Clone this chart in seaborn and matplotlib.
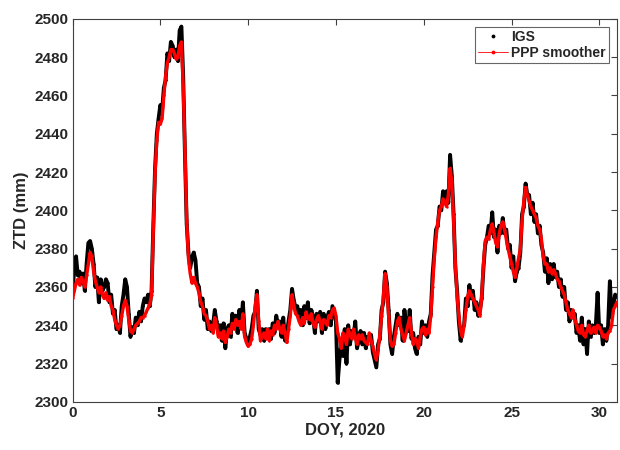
import numpy as np
import pandas as pd
import seaborn as sns
import matplotlib
matplotlib.use("Agg")
import matplotlib.pyplot as plt
from matplotlib.lines import Line2D

# Epochs: day of year 2020, sampled every 0.1 day
doy = np.round(np.arange(0, 31.01, 0.1), 1)

# IGS final troposphere product (ZTD, mm)
igs_ztd = [
    2356, 2370, 2376, 2366, 2368, 2362, 2367, 2358, 2372, 2383,
    2384, 2380, 2372, 2360, 2365, 2352, 2364, 2358, 2360, 2364,
    2362, 2352, 2356, 2346, 2348, 2338, 2340, 2336, 2350, 2356,
    2364, 2360, 2346, 2334, 2339, 2336, 2344, 2340, 2347, 2342,
    2350, 2354, 2352, 2356, 2350, 2358, 2392, 2422, 2440, 2448,
    2455, 2452, 2464, 2468, 2482, 2478, 2488, 2486, 2480, 2484,
    2478, 2494, 2496, 2470, 2430, 2393, 2378, 2370, 2375, 2378,
    2374, 2362, 2360, 2350, 2354, 2343, 2348, 2338, 2342, 2337,
    2340, 2348, 2342, 2336, 2340, 2332, 2341, 2328, 2338, 2340,
    2334, 2346, 2340, 2345, 2336, 2348, 2340, 2352, 2336, 2333,
    2330, 2334, 2338, 2345, 2347, 2358, 2338, 2335, 2338, 2332,
    2338, 2334, 2338, 2333, 2341, 2336, 2345, 2340, 2342, 2334,
    2344, 2332, 2335, 2342, 2348, 2359, 2353, 2349, 2350, 2344,
    2348, 2340, 2350, 2344, 2352, 2341, 2348, 2344, 2336, 2346,
    2342, 2347, 2336, 2346, 2338, 2344, 2347, 2340, 2350, 2346,
    2342, 2310, 2322, 2330, 2324, 2338, 2320, 2340, 2330, 2337,
    2334, 2342, 2328, 2332, 2337, 2330, 2336, 2328, 2334, 2333,
    2335, 2326, 2322, 2318, 2330, 2333, 2348, 2352, 2368, 2362,
    2348, 2330, 2325, 2334, 2340, 2346, 2340, 2344, 2332, 2348,
    2340, 2337, 2348, 2333, 2336, 2328, 2325, 2334, 2330, 2342,
    2336, 2340, 2334, 2342, 2346, 2366, 2378, 2390, 2392, 2402,
    2400, 2410, 2406, 2410, 2404, 2429, 2418, 2398, 2370, 2358,
    2342, 2332, 2338, 2340, 2354, 2350, 2361, 2354, 2358, 2348,
    2352, 2345, 2348, 2354, 2370, 2382, 2386, 2392, 2388, 2399,
    2386, 2390, 2378, 2392, 2388, 2396, 2388, 2390, 2380, 2382,
    2370, 2376, 2363, 2368, 2370, 2378, 2398, 2402, 2414, 2408,
    2408, 2398, 2404, 2394, 2398, 2388, 2392, 2382, 2378, 2368,
    2375, 2362, 2372, 2364, 2372, 2365, 2368, 2360, 2364, 2355,
    2360, 2348, 2352, 2342, 2348, 2344, 2346, 2336, 2340, 2332,
    2344, 2330, 2338, 2325, 2342, 2334, 2340, 2336, 2340, 2357,
    2336, 2340, 2330, 2338, 2332, 2340, 2363, 2344, 2350, 2356,
    2355,
]

# PPP smoother estimates (ZTD, mm)
ppp_ztd = [
    2354, 2358, 2362, 2364, 2361, 2365, 2363, 2360, 2366, 2372,
    2378, 2376, 2368, 2363, 2360, 2357, 2360, 2356, 2354, 2357,
    2353, 2355, 2350, 2348, 2343, 2340, 2338, 2340, 2345, 2350,
    2353, 2350, 2343, 2337, 2336, 2338, 2340, 2341, 2342, 2344,
    2344, 2345, 2347, 2349, 2351, 2356, 2390, 2420, 2437, 2446,
    2445, 2448, 2460, 2470, 2477, 2480, 2484, 2484, 2482, 2479,
    2480, 2486, 2488, 2465, 2432, 2395, 2375, 2367, 2362, 2365,
    2362, 2360, 2357, 2352, 2350, 2346, 2345, 2342, 2338, 2340,
    2336, 2344, 2340, 2334, 2336, 2333, 2337, 2331, 2334, 2338,
    2336, 2341, 2338, 2343, 2340, 2342, 2338, 2346, 2334, 2331,
    2329, 2330, 2333, 2340, 2350, 2356, 2342, 2332, 2334, 2336,
    2333, 2338, 2332, 2337, 2335, 2340, 2338, 2342, 2338, 2336,
    2340, 2336, 2331, 2338, 2345, 2356, 2350, 2346, 2345, 2342,
    2340, 2344, 2341, 2347, 2344, 2343, 2346, 2341, 2339, 2343,
    2345, 2342, 2338, 2343, 2342, 2340, 2345, 2344, 2348, 2349,
    2345, 2336, 2333, 2328, 2336, 2334, 2330, 2338, 2335, 2333,
    2338, 2334, 2330, 2335, 2333, 2335, 2332, 2331, 2330, 2336,
    2332, 2329, 2325, 2322, 2327, 2335, 2345, 2355, 2367, 2360,
    2345, 2332, 2329, 2330, 2336, 2342, 2344, 2338, 2335, 2332,
    2336, 2340, 2344, 2336, 2330, 2333, 2332, 2328, 2334, 2338,
    2339, 2335, 2338, 2336, 2345, 2360, 2375, 2386, 2394, 2400,
    2402, 2406, 2404, 2402, 2408, 2422, 2415, 2395, 2372, 2355,
    2345, 2337, 2334, 2340, 2348, 2355, 2358, 2356, 2354, 2352,
    2350, 2348, 2345, 2355, 2372, 2384, 2386, 2385, 2390, 2393,
    2388, 2383, 2381, 2388, 2392, 2394, 2390, 2385, 2380, 2376,
    2372, 2368, 2365, 2370, 2375, 2380, 2395, 2405, 2412, 2408,
    2405, 2402, 2400, 2398, 2396, 2392, 2390, 2385, 2376, 2372,
    2372, 2368, 2370, 2367, 2369, 2367, 2364, 2363, 2360, 2358,
    2356, 2352, 2348, 2346, 2344, 2348, 2343, 2340, 2337, 2336,
    2340, 2335, 2334, 2337, 2340, 2336, 2337, 2339, 2336, 2340,
    2339, 2337, 2334, 2335, 2333, 2336, 2337, 2340, 2348, 2350,
    2352,
]

x_ticks = [0, 5, 10, 15, 20, 25, 30]
y_ticks = [2300, 2320, 2340, 2360, 2380, 2400, 2420, 2440, 2460, 2480, 2500]

df = pd.DataFrame({"doy": doy, "IGS": igs_ztd, "PPP smoother": ppp_ztd})

sns.set_style("white")
plt.rcParams["font.family"] = ["Liberation Sans", "DejaVu Sans"]
plt.rcParams["font.weight"] = "bold"

fig = plt.figure(figsize=(6.2, 4.5), dpi=100)
ax = fig.add_axes([0.117, 0.107, 0.878, 0.851])

sns.lineplot(data=df, x="doy", y="IGS", ax=ax, color="black", lw=2.8,
             marker=".", markersize=3.5, markeredgewidth=0, zorder=2)
sns.lineplot(data=df, x="doy", y="PPP smoother", ax=ax, color="#ff0000", lw=2.4,
             marker=".", markersize=3.5, markeredgewidth=0, zorder=3)

ax.set_xlim(0, 31)
ax.set_ylim(2300, 2500)
ax.set_xticks(x_ticks)
ax.set_yticks(y_ticks)
ax.tick_params(direction="in", top=True, right=True, length=4, width=0.8,
               color="#404040", labelsize=11, pad=3)
for lab in ax.get_xticklabels() + ax.get_yticklabels():
    lab.set_fontweight("bold")
for sp in ax.spines.values():
    sp.set_color("#404040")
    sp.set_linewidth(0.8)

ax.set_xlabel("DOY, 2020", fontsize=12, fontweight="bold", labelpad=2)
ax.set_ylabel("ZTD (mm)", fontsize=12, fontweight="bold", labelpad=4)

handles = [
    Line2D([], [], color="black", lw=0, marker=".", markersize=3.5),
    Line2D([], [], color="#ff0000", lw=0.6, marker=".", markersize=3.5),
]
leg = ax.legend(handles, ["IGS", "PPP smoother"], loc="upper right",
                frameon=True, fancybox=False, fontsize=10, handlelength=2.2,
                borderpad=0.2, labelspacing=0.15, handletextpad=0.2,
                borderaxespad=0.6)
leg.get_frame().set_edgecolor("#404040")
leg.get_frame().set_linewidth(0.8)
for t in leg.get_texts():
    t.set_fontweight("bold")

fig.savefig("out.png", dpi=100)
